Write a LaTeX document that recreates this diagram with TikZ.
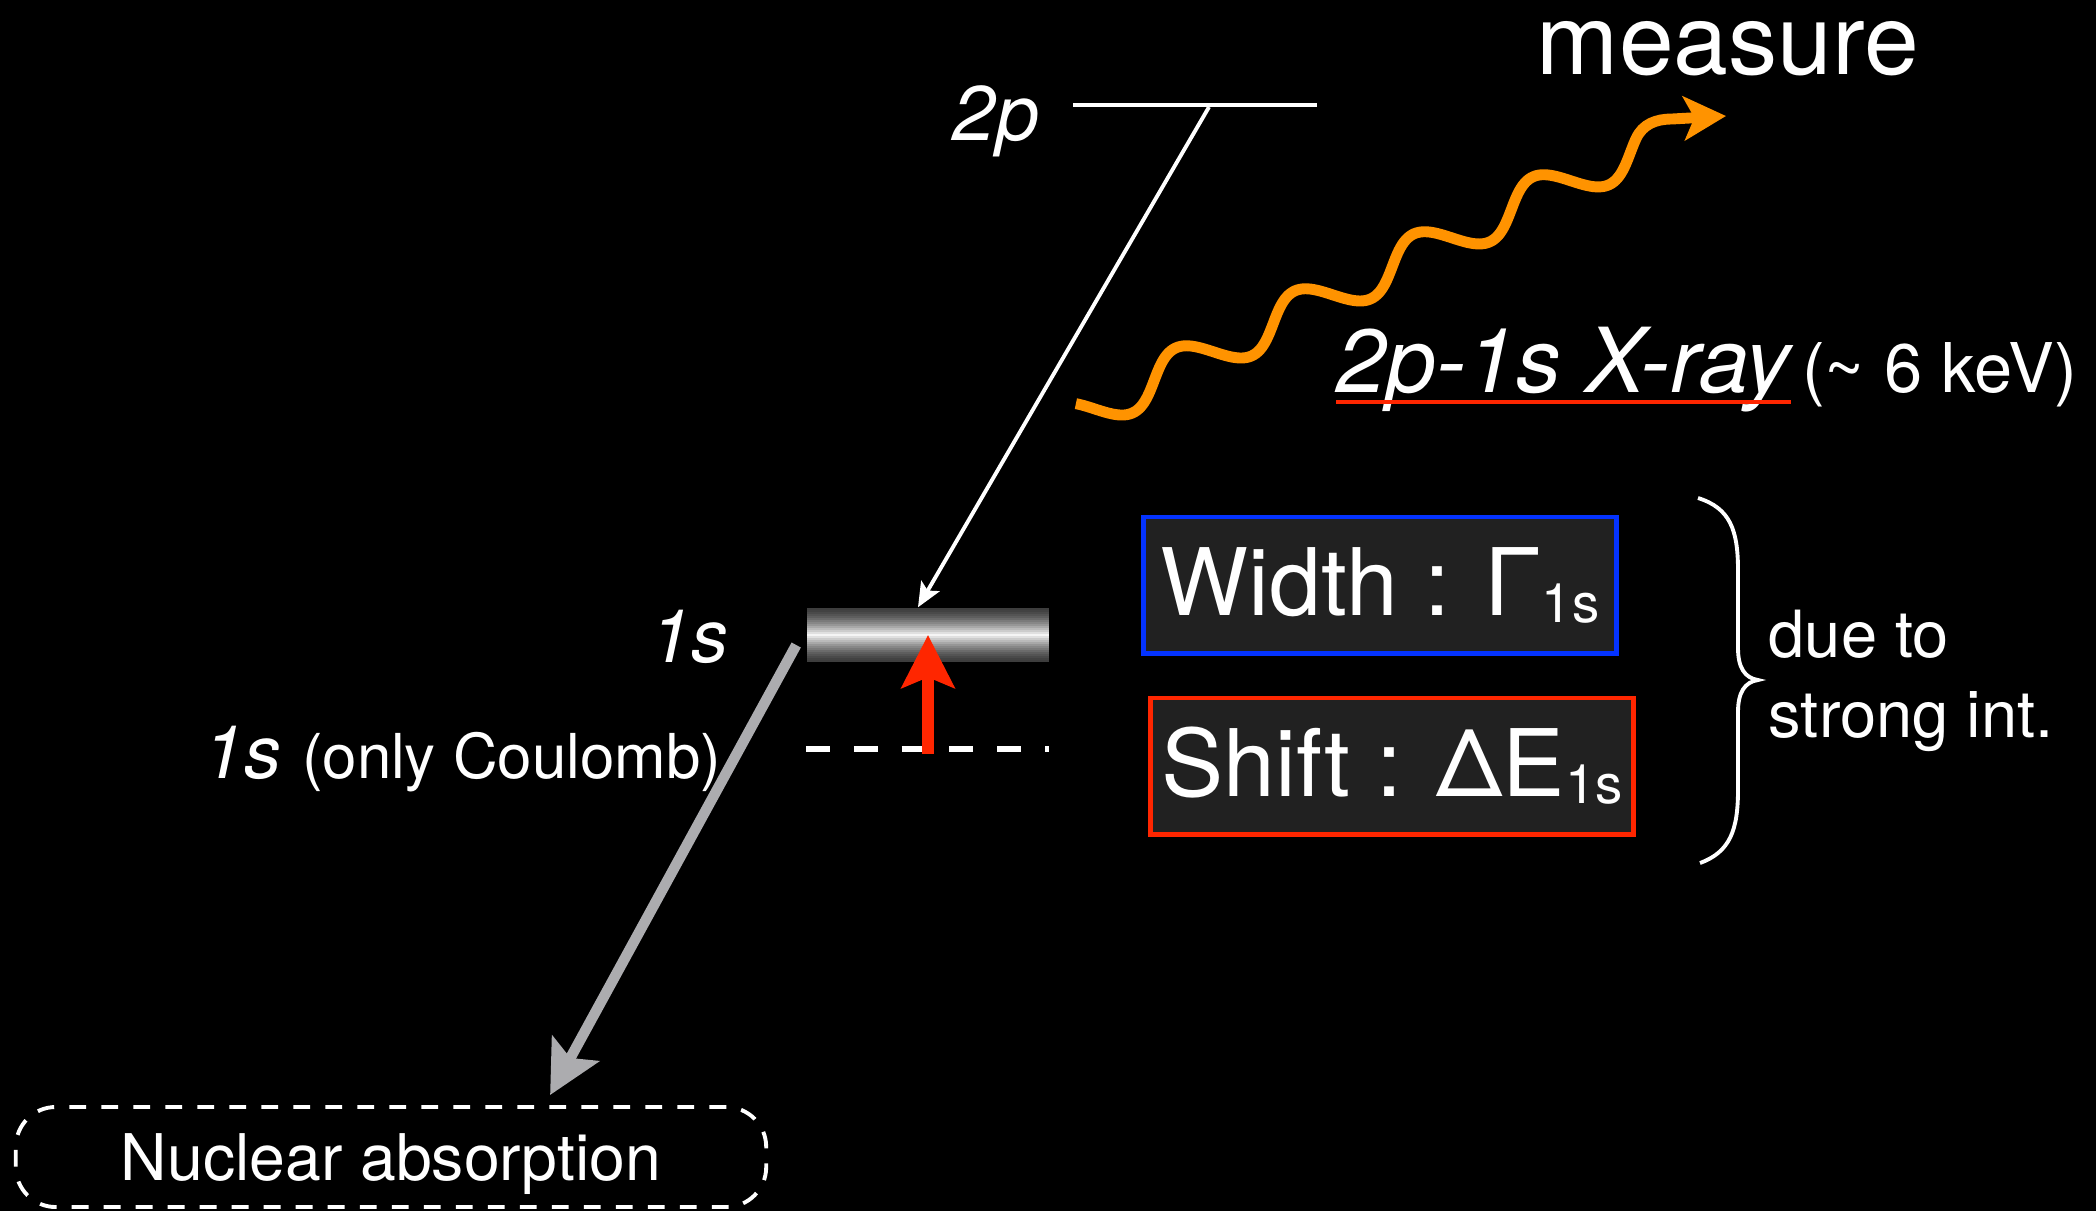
\documentclass[tikz,border=0pt]{standalone}
\usepackage{fontspec}
\setmainfont{TeX Gyre Heros}
\usetikzlibrary{arrows.meta}

\definecolor{xorange}{RGB}{255,147,0}
\definecolor{boxblue}{RGB}{4,51,255}
\definecolor{boxred}{RGB}{255,38,0}
\definecolor{boxfill}{RGB}{33,33,33}
\definecolor{absgray}{RGB}{172,172,175}

\newcommand{\txtsize}[2]{\fontsize{#1}{#2}\selectfont}

\begin{document}
\begin{tikzpicture}[x=0.01cm, y=-0.01cm,
  lbl/.style={text=white, inner sep=0pt},
  level/.style={white, line width=1.3pt},
  coulomb/.style={white, line width=1.8pt, dash pattern=on 6.8pt off 6.8pt},
  trans/.style={white, line width=1.1pt, -{Stealth[length=7pt, width=6pt, inset=1.5pt]}},
  shiftarrow/.style={boxred, line width=3.6pt, -{Stealth[length=15pt, width=15pt, inset=3pt]}},
  absarrow/.style={absgray, line width=3pt, -{Stealth[length=15pt, width=15pt, inset=3pt]}},
  xray/.style={xorange, line width=3.1pt, -{Stealth[length=12pt, width=12.5pt, inset=3pt]}},
  resbox/.style={draw, line width=1.4pt, fill=boxfill, text=white, inner sep=0pt, minimum height=1.36cm},
  nucl/.style={draw=white, line width=1.1pt, dash pattern=on 4.8pt off 4.3pt, rounded corners=0.4cm,
    minimum width=7.5cm, minimum height=1.0cm, text=white, inner sep=0pt, text depth=0pt}]

% Background
\useasboundingbox (0,0) rectangle (2096,1211);
\fill[black] (0,0) rectangle (2096,1211);

% 2p level
\coordinate (p2L) at (1073,105);
\coordinate (p2R) at (1317,105);
\coordinate (p2src) at (1209,107);
\draw[level] (p2L) -- (p2R);
\node[lbl, anchor=base] (p2lbl) at (996,140) {\txtsize{22}{26}\itshape 2p};

% 1s level, broadened by strong int. (shaded bar)
\foreach \i in {0,...,26} {
  \pgfmathsetmacro{\u}{(\i+0.5)/27}
  \pgfmathtruncatemacro{\w}{24+72*(1-abs(2*\u-1))^1.5}
  \pgfmathsetmacro{\ya}{608+2*\i}
  \pgfmathsetmacro{\yb}{610.4+2*\i}
  \fill[white!\w!black] (807,\ya) rectangle (1049,\yb);
}
\node[inner sep=0pt, minimum width=2.42cm, minimum height=0.54cm] (lev1s) at (928,635) {};
\node[lbl, anchor=base east] (s1lbl) at (729,662) {\txtsize{21}{25}\itshape 1s};

% 1s level, Coulomb only
\coordinate (c1L) at (806,749);
\coordinate (c1R) at (1049,749);
\coordinate (c1mid) at (928,754);
\draw[coulomb] (c1L) -- (c1R);
\node[lbl, anchor=base east] (c1lbl) at (722,778)
  {\txtsize{21}{25}\itshape 1s \upshape\txtsize{17.6}{21}(only Coulomb)};

% Transitions
\draw[trans] (p2src) -- ([xshift=-0.1cm]lev1s.north);
\draw[shiftarrow] (c1mid) -- (lev1s.center);

% Nuclear absorption
\node[nucl] (absbox) at (391,1157) {\txtsize{18.3}{22}Nuclear absorption};
\draw[absarrow] ([xshift=-0.1cm,yshift=-0.1cm]lev1s.west) -- ([xshift=1.59cm,yshift=0.1cm]absbox.north);

% X-ray photon
\coordinate (xtip) at (1726,116);
\draw[xray] plot[domain=-220:1470, samples=240, variable=\t]
  ({1154.2 + \t*0.33073 - 8.64*sin(\t)}, {380.4 - \t*0.1584 - 18.04*sin(\t)})
  to[out=65, in=180] (1672,119) -- (xtip);
\node[lbl, anchor=base] (meas) at (1728,74) {\txtsize{28}{32}measure};
\node[lbl, anchor=base west] (xlab) at (1336,392) {\txtsize{25.5}{29}\itshape 2p-1s X-ray};
\node[lbl, anchor=base west] (kev) at ([xshift=0.1cm]xlab.base east) {\txtsize{19.5}{23}(\textasciitilde{} 6 keV)};
\draw[boxred, line width=1pt] ([yshift=-0.1cm]xlab.base west) -- ([yshift=-0.1cm]xlab.base east);

% Width and shift
\node[resbox, draw=boxblue, minimum width=4.73cm] (gam) at (1380,585)
  {\txtsize{26.5}{30}Width : Γ\raisebox{-2pt}{\txtsize{15.5}{18}1s}};
\node[resbox, draw=boxred, minimum width=4.83cm] (dele) at (1392,766)
  {\txtsize{26.5}{30}Shift : ΔE\raisebox{-2pt}{\txtsize{15.5}{18}1s}};

% Brace
\draw[white, line width=1.1pt] (1698,498) .. controls (1730,508) and (1738,530) .. (1738,570)
  -- (1738,648) .. controls (1738,668) and (1745,678) .. (1758,680)
  .. controls (1745,682) and (1738,692) .. (1738,712)
  -- (1738,790) .. controls (1738,830) and (1730,852) .. (1700,863);
\node[lbl, anchor=west, align=left, font=\txtsize{18.5}{22.8}] (strong) at (1768,681) {due to\\strong int.};

\end{tikzpicture}
\end{document}
